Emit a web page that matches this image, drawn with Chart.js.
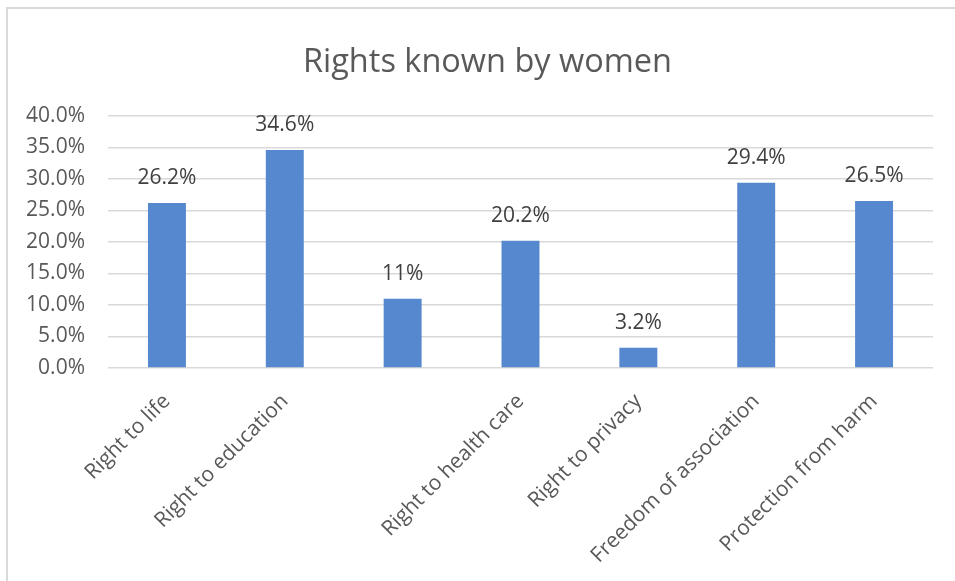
<!DOCTYPE html>
<html>
<head>
<meta charset="utf-8">
<script src="https://cdn.jsdelivr.net/npm/chart.js@4/dist/chart.umd.min.js"></script>
<style>
  html, body { margin: 0; padding: 0; background: #ffffff; }
  #wrap { position: relative; width: 955px; height: 581px; }
  #frame { position: absolute; left: 6px; top: 7px; right: -4px; bottom: -4px;
           border-top: 2px solid #d9d9d9; border-left: 2px solid #d9d9d9; pointer-events: none; }
  canvas { position: absolute; left: 0; top: 0; }
</style>
</head>
<body>
<div id="wrap">
  <canvas id="c" width="955" height="581"></canvas>
  <div id="frame"></div>
</div>
<script>
const chartTitle = 'Rights known by women';
const categories = ['Right to life', 'Right to education', '', 'Right to health care', 'Right to privacy', 'Freedom of association', 'Protection from harm'];
const percentValues = [26.2, 34.6, 11, 20.2, 3.2, 29.4, 26.5];
const valueLabels = ['26.2%', '34.6%', '11%', '20.2%', '3.2%', '29.4%', '26.5%'];
const yTickMin = 0;
const yTickMax = 40;
const yTickStep = 5;

const FONT = "'Open Sans', 'Noto Sans', sans-serif";

const valueLabelPlugin = {
  id: 'valueLabels',
  afterDatasetsDraw(chart) {
    const ctx = chart.ctx;
    const meta = chart.getDatasetMeta(0);
    ctx.save();
    ctx.font = '21px ' + FONT;
    ctx.fillStyle = '#404040';
    ctx.textAlign = 'center';
    ctx.textBaseline = 'alphabetic';
    meta.data.forEach((bar, i) => {
      ctx.fillText(valueLabels[i], bar.x, bar.y - 19);
    });
    ctx.restore();
  }
};

const titlePlugin = {
  id: 'offsetTitle',
  afterDraw(chart) {
    const ctx = chart.ctx;
    ctx.save();
    ctx.font = '32.5px ' + FONT;
    ctx.fillStyle = '#595959';
    ctx.textAlign = 'center';
    ctx.textBaseline = 'alphabetic';
    ctx.fillText(chartTitle, 487.5, 72);
    ctx.restore();
  }
};

new Chart(document.getElementById('c'), {
  type: 'bar',
  data: {
    labels: categories,
    datasets: [{
      data: percentValues,
      backgroundColor: '#5588CE',
      borderWidth: 0,
      barPercentage: 1,
      categoryPercentage: 0.322
    }]
  },
  options: {
    responsive: false,
    animation: false,
    layout: { padding: { left: 0, right: 22, top: 116, bottom: 0 } },
    plugins: {
      legend: { display: false },
      tooltip: { enabled: false },
      title: { display: false }
    },
    scales: {
      y: {
        min: yTickMin,
        max: yTickMax,
        afterFit(scale) { scale.width = 108; },
        ticks: {
          stepSize: yTickStep,
          padding: 23,
          color: '#595959',
          font: { family: FONT, size: 21 },
          callback: (v) => v.toFixed(1) + '%'
        },
        grid: { color: '#d9d9d9', lineWidth: 1.5, drawTicks: false },
        border: { display: false }
      },
      x: {
        afterFit(scale) { scale.height = 213; },
        ticks: {
          autoSkip: false,
          minRotation: 45,
          maxRotation: 45,
          padding: 21,
          color: '#595959',
          font: { family: FONT, size: 21 }
        },
        grid: { display: false, drawTicks: false },
        border: { display: false }
      }
    }
  },
  plugins: [valueLabelPlugin, titlePlugin]
});
</script>
</body>
</html>
